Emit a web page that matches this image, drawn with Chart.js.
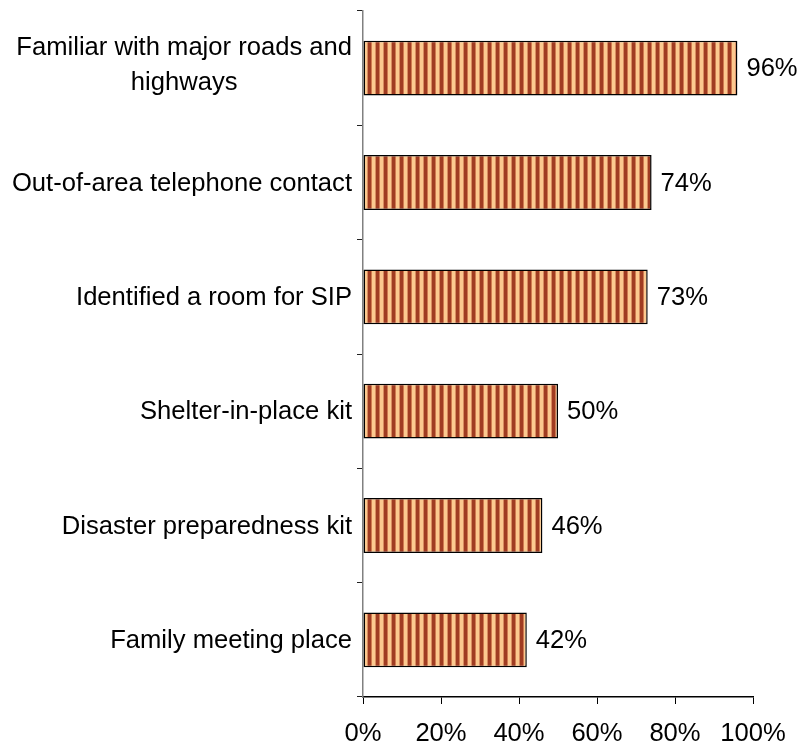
<!DOCTYPE html>
<html>
<head>
<meta charset="utf-8">
<script src="https://cdn.jsdelivr.net/npm/chart.js@4.4.1/dist/chart.umd.min.js"></script>
<style>
  html, body { margin: 0; padding: 0; background: #fff; }
  #wrap { width: 798px; height: 749px; position: relative; }
</style>
</head>
<body>
<div id="wrap"><canvas id="chart" width="798" height="749"></canvas></div>
<script>
// ── data ────────────────────────────────────────────────────────────────
const categories = [
  ["Familiar with major roads and", "highways"],
  "Out-of-area telephone contact",
  "Identified a room for SIP",
  "Shelter-in-place kit",
  "Disaster preparedness kit",
  "Family meeting place",
];
const shares = [0.96, 0.74, 0.73, 0.50, 0.46, 0.42];
const xTicks = [0, 0.2, 0.4, 0.6, 0.8, 1.0];

const FONT = "'Liberation Sans', Arial, sans-serif";
const FS = 25.6;
const pct = (v) => Math.round(v * 100) + "%";

// vertical stripe fill (dark red / peach), 8px period
function stripes() {
  const c = document.createElement("canvas");
  c.width = 8; c.height = 4;
  const g = c.getContext("2d");
  const cols = ["#a03c22", "#a03c22", "#a03c22", "#d07a50", "#fcc98f", "#fcc98f", "#fcc98f", "#d88c60"];
  cols.forEach((col, i) => { g.fillStyle = col; g.fillRect(i, 0, 1, 4); });
  return g.createPattern(c, "repeat");
}

// category labels: right edge next to the axis, wrapped lines centred on each other
const catLabels = {
  id: "catLabels",
  afterDraw(chart) {
    const ctx = chart.ctx, ys = chart.scales.y;
    const right = ys.right - 11, lh = 35;
    ctx.save();
    ctx.font = FS + "px " + FONT;
    ctx.fillStyle = "#000";
    ctx.textBaseline = "middle";
    ctx.textAlign = "center";
    categories.forEach((lab, i) => {
      const lines = Array.isArray(lab) ? lab : [lab];
      const w = Math.max(...lines.map((l) => ctx.measureText(l).width));
      const cy = ys.getPixelForTick(i) + 1;
      const y0 = cy - (lines.length - 1) * lh / 2 - (lines.length > 1 ? 4 : 0);
      lines.forEach((l, k) => ctx.fillText(l, right - w / 2, y0 + k * lh));
    });
    ctx.restore();
  },
};

// value labels to the right of each bar
const valueLabels = {
  id: "valueLabels",
  afterDatasetsDraw(chart) {
    const ctx = chart.ctx;
    ctx.save();
    ctx.font = FS + "px " + FONT;
    ctx.fillStyle = "#000";
    ctx.textAlign = "left";
    ctx.textBaseline = "middle";
    chart.getDatasetMeta(0).data.forEach((bar, i) => {
      ctx.fillText(pct(shares[i]), bar.x + 9, bar.y + 1);
    });
    ctx.restore();
  },
};

new Chart(document.getElementById("chart").getContext("2d"), {
  type: "bar",
  data: {
    labels: categories,
    datasets: [{
      data: shares,
      backgroundColor: stripes(),
      borderColor: "#000",
      borderWidth: 1.5,
      borderSkipped: false,
      barPercentage: 1,
      categoryPercentage: 0.48,
    }],
  },
  plugins: [valueLabels, catLabels],
  options: {
    indexAxis: "y",
    responsive: false,
    animation: false,
    layout: { padding: { top: 11, right: 45, left: 0, bottom: 0 } },
    plugins: { legend: { display: false }, tooltip: { enabled: false } },
    scales: {
      x: {
        min: 0, max: 1,
        afterBuildTicks: (s) => { s.ticks = xTicks.map((v) => ({ value: v })); },
        afterFit: (s) => { s.height = 52; s.paddingLeft = 0; s.paddingRight = 0; },
        ticks: { callback: (v) => pct(v), color: "#000", font: { family: FONT, size: FS }, padding: 15, maxRotation: 0 },
        grid: { drawOnChartArea: false, tickLength: 7, color: "#000", lineWidth: 1 },
        border: { color: "#000", width: 1.5 },
      },
      y: {
        afterFit: (s) => { s.width = 363; },
        ticks: { display: false },
        grid: { drawOnChartArea: false, tickLength: 6, color: "#222", lineWidth: 1 },
        border: { color: "#808080", width: 1.5 },
      },
    },
  },
});
</script>
</body>
</html>
